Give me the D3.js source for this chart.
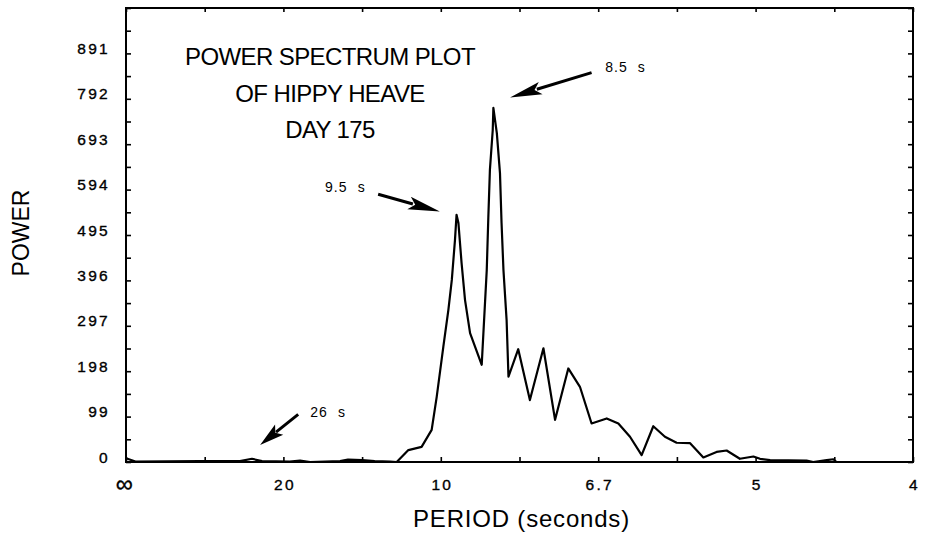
<!DOCTYPE html>
<html>
<head>
<meta charset="utf-8">
<script src="https://cdn.jsdelivr.net/npm/d3@7"></script>
<style>
  body { margin: 0; background: #fff; }
  svg { display: block; font-family: "Liberation Sans", Arial, sans-serif; }
</style>
</head>
<body>
<div class="chart"></div>
<script>
// frequency (cycles/s) of each spectral estimate
var freq = [0, 0.003, 0.0235, 0.0362, 0.040, 0.0432, 0.052, 0.0553, 0.0585, 0.068,
    0.0705, 0.075, 0.079, 0.0839, 0.086, 0.0897, 0.0939, 0.0971, 0.0987, 0.1008,
    0.1024, 0.1035, 0.1045, 0.1050, 0.1056, 0.1066, 0.1077, 0.1093, 0.1130, 0.1146,
    0.1151, 0.1156, 0.1165, 0.1167, 0.1178, 0.1188, 0.1193, 0.1199, 0.1209, 0.1215,
    0.1246, 0.1283, 0.1326, 0.1363, 0.1405, 0.1442, 0.1479, 0.1527, 0.1564, 0.1601,
    0.1638, 0.1675, 0.1712, 0.1749, 0.1792, 0.1834, 0.1876, 0.1908, 0.1950, 0.1993,
    0.2014, 0.2046, 0.2162, 0.2183, 0.2226, 0.2247, 0.2257, 0.25];
var power = [8, 1, 2, 2, 7, 2, 1, 3, 0, 2,
    5, 4, 2, 1, 0, 26, 33, 70, 142, 251,
    331, 397, 484, 539, 521, 434, 353, 281, 212, 419,
    534, 637, 724, 772, 717, 630, 521, 419, 310, 186,
    246, 135, 248, 92, 204, 164, 84, 95, 84, 55,
    15, 78, 55, 42, 41, 10, 22, 25, 7, 12,
    7, 4, 3, 0, 4, 6, 0, 0];

// x axis: linear in frequency, labelled in period
var periodTickFreqs = [0, 0.05, 0.10, 0.15, 0.20, 0.25];
var periodTickLabels = ["\u221e", "20", "10", "6.7", "5", "4"];
var powerTicks = [0, 99, 198, 297, 396, 495, 594, 693, 792, 891];

var titleLines = ["POWER SPECTRUM PLOT", "OF HIPPY HEAVE", "DAY 175"];

// annotations: text anchor, arrow tail and tip, all in data units
var notes = [
    {label: "8.5  s", tf: 0.1522, tp: 850, f0: 0.1479, p0: 849, f1: 0.1220, p1: 795},
    {label: "9.5  s", tf: 0.0632, tp: 589, f0: 0.0801, p0: 584, f1: 0.0997, p1: 546},
    {label: "26  s", tf: 0.0585, tp: 98, f0: 0.0547, p0: 104, f1: 0.0426, p1: 37}
];

var margin = {top: 8, right: 30, bottom: 79, left: 126},
    width = 913 - margin.left,
    height = 462 - margin.top;

var svg = d3.select(".chart")
    .append("svg")
    .attr("width", 943)
    .attr("height", 541)
    .append("g")
    .attr("transform", "translate(" + margin.left + "," + margin.top + ")");

var x = d3.scaleLinear().domain([0, 0.25]).range([0, width]);
var y = d3.scaleLinear().domain([0, 990]).range([height, 0]);

var minorX = d3.range(0, 11).map(function(i) { return i * 0.025; });
var minorY = d3.range(0, 21).map(function(i) { return i * 49.5; });

// bottom axis, ticks pointing in
var axBottom = svg.append("g")
    .attr("transform", "translate(0," + height + ")")
    .call(d3.axisBottom(x)
        .tickValues(minorX)
        .tickSize(-5)
        .tickPadding(17)
        .tickFormat(function(d) {
            var k = periodTickFreqs.findIndex(function(v) { return Math.abs(v - d) < 1e-9; });
            return k >= 0 ? periodTickLabels[k] : "";
        }));

// top axis, no labels
var axTop = svg.append("g")
    .call(d3.axisTop(x).tickValues(minorX).tickSize(-4).tickFormat(""));

// left axis
var axLeft = svg.append("g")
    .call(d3.axisLeft(y)
        .tickValues(minorY)
        .tickSize(-5)
        .tickPadding(16)
        .tickFormat(function(d) {
            return powerTicks.indexOf(d) >= 0 ? d : "";
        }));

// right axis
var axRight = svg.append("g")
    .attr("transform", "translate(" + width + ",0)")
    .call(d3.axisRight(y).tickValues(minorY).tickSize(-5).tickFormat(""));

[axBottom, axTop, axLeft, axRight].forEach(function(ax) {
    ax.select(".domain").remove();
    ax.selectAll("line").attr("stroke", "#000").attr("stroke-width", 1.6);
    ax.selectAll("text")
        .attr("fill", "#000")
        .attr("font-family", "Liberation Sans, Arial, sans-serif")
        .attr("font-size", "15.5px")
        .attr("stroke", "#000")
        .attr("stroke-width", 0.35)
        .style("letter-spacing", "2.3px");
});
axLeft.selectAll("text").attr("dy", "0.0em");
axBottom.selectAll("text").attr("dx", "1px");
// the infinity sign is drawn larger in the original
axBottom.selectAll("text")
    .filter(function(d) { return d === 0; })
    .attr("font-size", "24px")
    .attr("dy", "0.55em")
    .attr("dx", "-1px");

// frame
svg.append("rect")
    .attr("x", 0)
    .attr("y", 0)
    .attr("width", width)
    .attr("height", height)
    .attr("fill", "none")
    .attr("stroke", "#000")
    .attr("stroke-width", 2);

// spectrum
var points = freq.map(function(f, i) { return [f, power[i]]; });
var line = d3.line()
    .x(function(d) { return x(d[0]); })
    .y(function(d) { return y(d[1]); });

svg.append("path")
    .datum(points)
    .attr("d", line)
    .attr("fill", "none")
    .attr("stroke", "#000")
    .attr("stroke-width", 2.2)
    .attr("stroke-linejoin", "round");

// title block
svg.append("text")
    .attr("x", 204)
    .attr("y", 57)
    .attr("text-anchor", "middle")
    .attr("font-size", "24px")
    .style("letter-spacing", "-0.6px")
    .selectAll("tspan")
    .data(titleLines)
    .enter()
    .append("tspan")
    .attr("x", 204)
    .attr("dy", function(d, i) { return i === 0 ? 0 : 36.5; })
    .text(function(d) { return d; });

// annotations with arrows
notes.forEach(function(n) {
    svg.append("text")
        .attr("x", x(n.tf))
        .attr("y", y(n.tp))
        .attr("font-size", "14px")
        .style("white-space", "pre")
        .style("letter-spacing", "1.1px")
        .text(n.label);

    var x0 = x(n.f0), y0 = y(n.p0), x1 = x(n.f1), y1 = y(n.p1);
    var dx = x1 - x0, dy = y1 - y0, len = Math.sqrt(dx * dx + dy * dy);
    var ux = dx / len, uy = dy / len;
    var headLen = Math.min(32, len * 0.5), halfW = 6.5;
    var bx = x1 - ux * headLen, by = y1 - uy * headLen;

    svg.append("line")
        .attr("x1", x0).attr("y1", y0)
        .attr("x2", bx + ux * 4).attr("y2", by + uy * 4)
        .attr("stroke", "#000")
        .attr("stroke-width", 3);

    svg.append("path")
        .attr("d", "M" + x1 + "," + y1 +
            "L" + (bx - uy * halfW) + "," + (by + ux * halfW) +
            "L" + (x1 - ux * headLen * 0.8) + "," + (y1 - uy * headLen * 0.8) +
            "L" + (bx + uy * halfW) + "," + (by - ux * halfW) + "Z")
        .attr("fill", "#000");
});

// axis titles
svg.append("text")
    .attr("transform", "translate(-97," + (height / 2 - 2) + ") rotate(-90)")
    .attr("text-anchor", "middle")
    .attr("font-size", "23px")
    .text("POWER");

svg.append("text")
    .attr("x", width / 2 + 2)
    .attr("y", height + 65)
    .attr("text-anchor", "middle")
    .attr("font-size", "24px")
    .style("letter-spacing", "0.8px")
    .text("PERIOD (seconds)");
</script>
</body>
</html>
